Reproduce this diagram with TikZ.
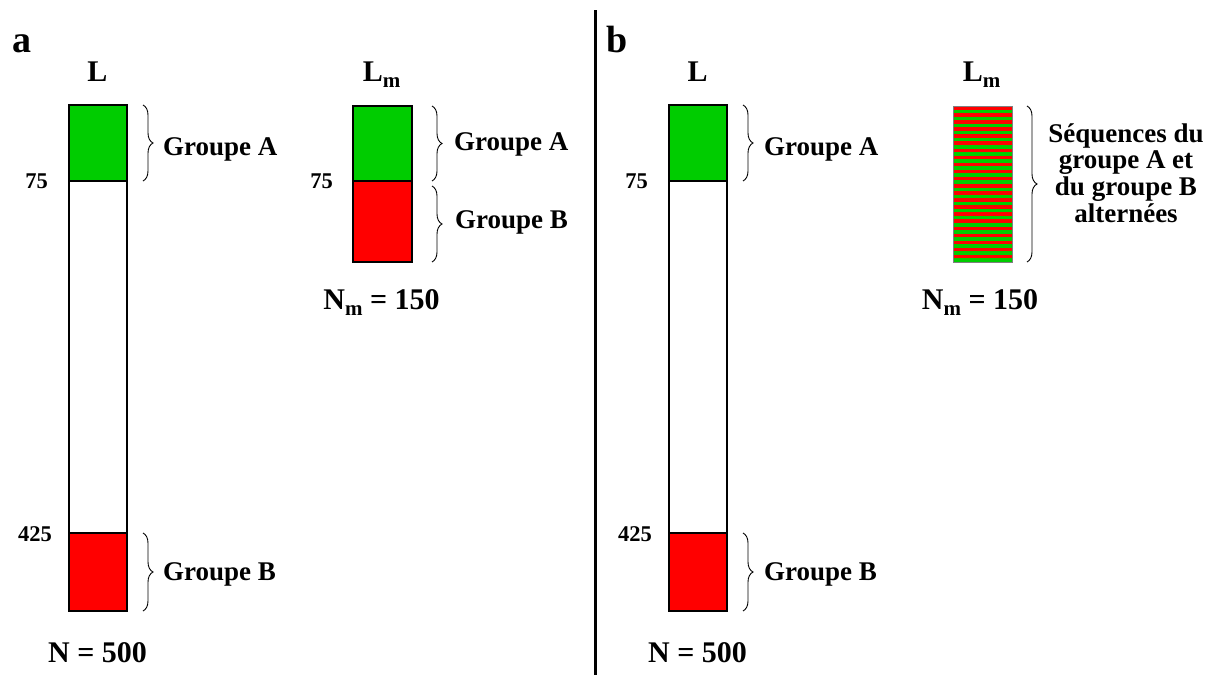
\documentclass[tikz,border=0pt]{standalone}
\usepackage{fontspec}
\setmainfont{Liberation Serif}
\usetikzlibrary{decorations.pathreplacing}
\definecolor{grpA}{RGB}{0,204,0}
\definecolor{grpB}{RGB}{255,0,0}
\begin{document}
\begin{tikzpicture}[x=1pt,y=-1pt,
  lbl/.style={font=\fontsize{27}{26.7}\selectfont\bfseries, inner sep=0pt},
  big/.style={font=\fontsize{30}{32}\selectfont\bfseries, inner sep=0pt},
  num/.style={font=\fontsize{22.5}{23}\selectfont\bfseries, inner sep=0pt},
  panel/.style={font=\fontsize{38}{40}\selectfont\bfseries, inner sep=0pt},
  seg/.style={draw=black, line width=1.6pt, inner sep=0pt, outer sep=0pt},
  brc/.style={decorate, decoration={brace, amplitude=10pt}, line width=0.9pt},
  sepline/.style={line width=3pt}
  ]
\useasboundingbox (0,0) rectangle (1213,675);

% divider
\coordinate (dtop) at (595,10);
\coordinate (dbot) at (595,675);
\draw[sepline] (dtop) -- (dbot);

% panel labels
\node[panel, anchor=base west] (pa) at (12,52) {a};
\node[panel, anchor=base west] (pb) at (606,52) {b};

% ---------- panel a : L ----------
\node[big, anchor=base] (aL) at (97.5,81) {L};
\node[seg, fill=white, minimum width=58, minimum height=352] (aW) at (98,357) {};
\node[seg, fill=grpA, minimum width=58, minimum height=76] (aA) at (98,143) {};
\node[seg, fill=grpB, minimum width=58, minimum height=78] (aB) at (98,572) {};
\node[num, anchor=base east] (a75) at (48,188) {75};
\node[num, anchor=base east] (a425) at (52,541) {425};
\draw[brc] ([xshift=16]aA.north east) -- ([xshift=16]aA.south east);
\draw[brc] ([xshift=16]aB.north east) -- ([xshift=16]aB.south east);
\node[lbl, anchor=base west] (aGA) at (163,155) {Groupe A};
\node[lbl, anchor=base west] (aGB) at (163,580) {Groupe B};
\node[big, anchor=base] (aN) at (97.5,662) {N = 500};

% ---------- panel a : Lm ----------
\node[big, anchor=base] (amL) at (381.5,81) {L\raisebox{-6pt}{\fontsize{21}{21}\selectfont m}};
\node[seg, fill=grpA, minimum width=59, minimum height=75] (amA) at (382.5,143.5) {};
\node[seg, fill=grpB, minimum width=59, minimum height=81] (amB) at (382.5,221.5) {};
\node[num, anchor=base east] (am75) at (333,188) {75};
\draw[brc] ([xshift=20]amA.north east) -- ([xshift=20]amA.south east);
\draw[brc] ([xshift=20,yshift=-5]amB.north east) -- ([xshift=20]amB.south east);
\node[lbl, anchor=base west] (amGA) at (454,150) {Groupe A};
\node[lbl, anchor=base west] (amGB) at (455,228) {Groupe B};
\node[big, anchor=base] (amN) at (381.5,309) {N\raisebox{-6pt}{\fontsize{21}{21}\selectfont m} = 150};

% ---------- panel b : L ----------
\node[big, anchor=base] (bL) at (697.5,81) {L};
\node[seg, fill=white, minimum width=58, minimum height=352] (bW) at (698,357) {};
\node[seg, fill=grpA, minimum width=58, minimum height=76] (bA) at (698,143) {};
\node[seg, fill=grpB, minimum width=58, minimum height=78] (bB) at (698,572) {};
\node[num, anchor=base east] (b75) at (648,188) {75};
\node[num, anchor=base east] (b425) at (652,541) {425};
\draw[brc] ([xshift=16]bA.north east) -- ([xshift=16]bA.south east);
\draw[brc] ([xshift=16]bB.north east) -- ([xshift=16]bB.south east);
\node[lbl, anchor=base west] (bGA) at (764,155) {Groupe A};
\node[lbl, anchor=base west] (bGB) at (764,580) {Groupe B};
\node[big, anchor=base] (bN) at (697.5,662) {N = 500};

% ---------- panel b : Lm (striped) ----------
\node[big, anchor=base] (bmL) at (981.5,81) {L\raisebox{-6pt}{\fontsize{21}{21}\selectfont m}};
\node[inner sep=0pt, outer sep=0pt, minimum width=59, minimum height=156] (bmS) at (982.5,184) {};
\foreach \i in {0,...,43}{
  \pgfmathsetmacro{\ya}{106+\i*156/44}
  \pgfmathsetmacro{\yb}{106+(\i+1)*156/44}
  \pgfmathparse{mod(\i,2)==0 ? "grpB" : "grpA"}
  \fill[\pgfmathresult] (953,\ya) rectangle (1012,\yb);
}
\draw[gray, line width=0.8pt] (bmS.north west) rectangle (bmS.south east);
\draw[brc] ([xshift=15]bmS.north east) -- ([xshift=15]bmS.south east);
\node[lbl, align=center] (bmT) at (1126,173) {Séquences du\\groupe A et\\du groupe B\\alternées};
\node[big, anchor=base] (bmN) at (980,309) {N\raisebox{-6pt}{\fontsize{21}{21}\selectfont m} = 150};
\end{tikzpicture}
\end{document}
